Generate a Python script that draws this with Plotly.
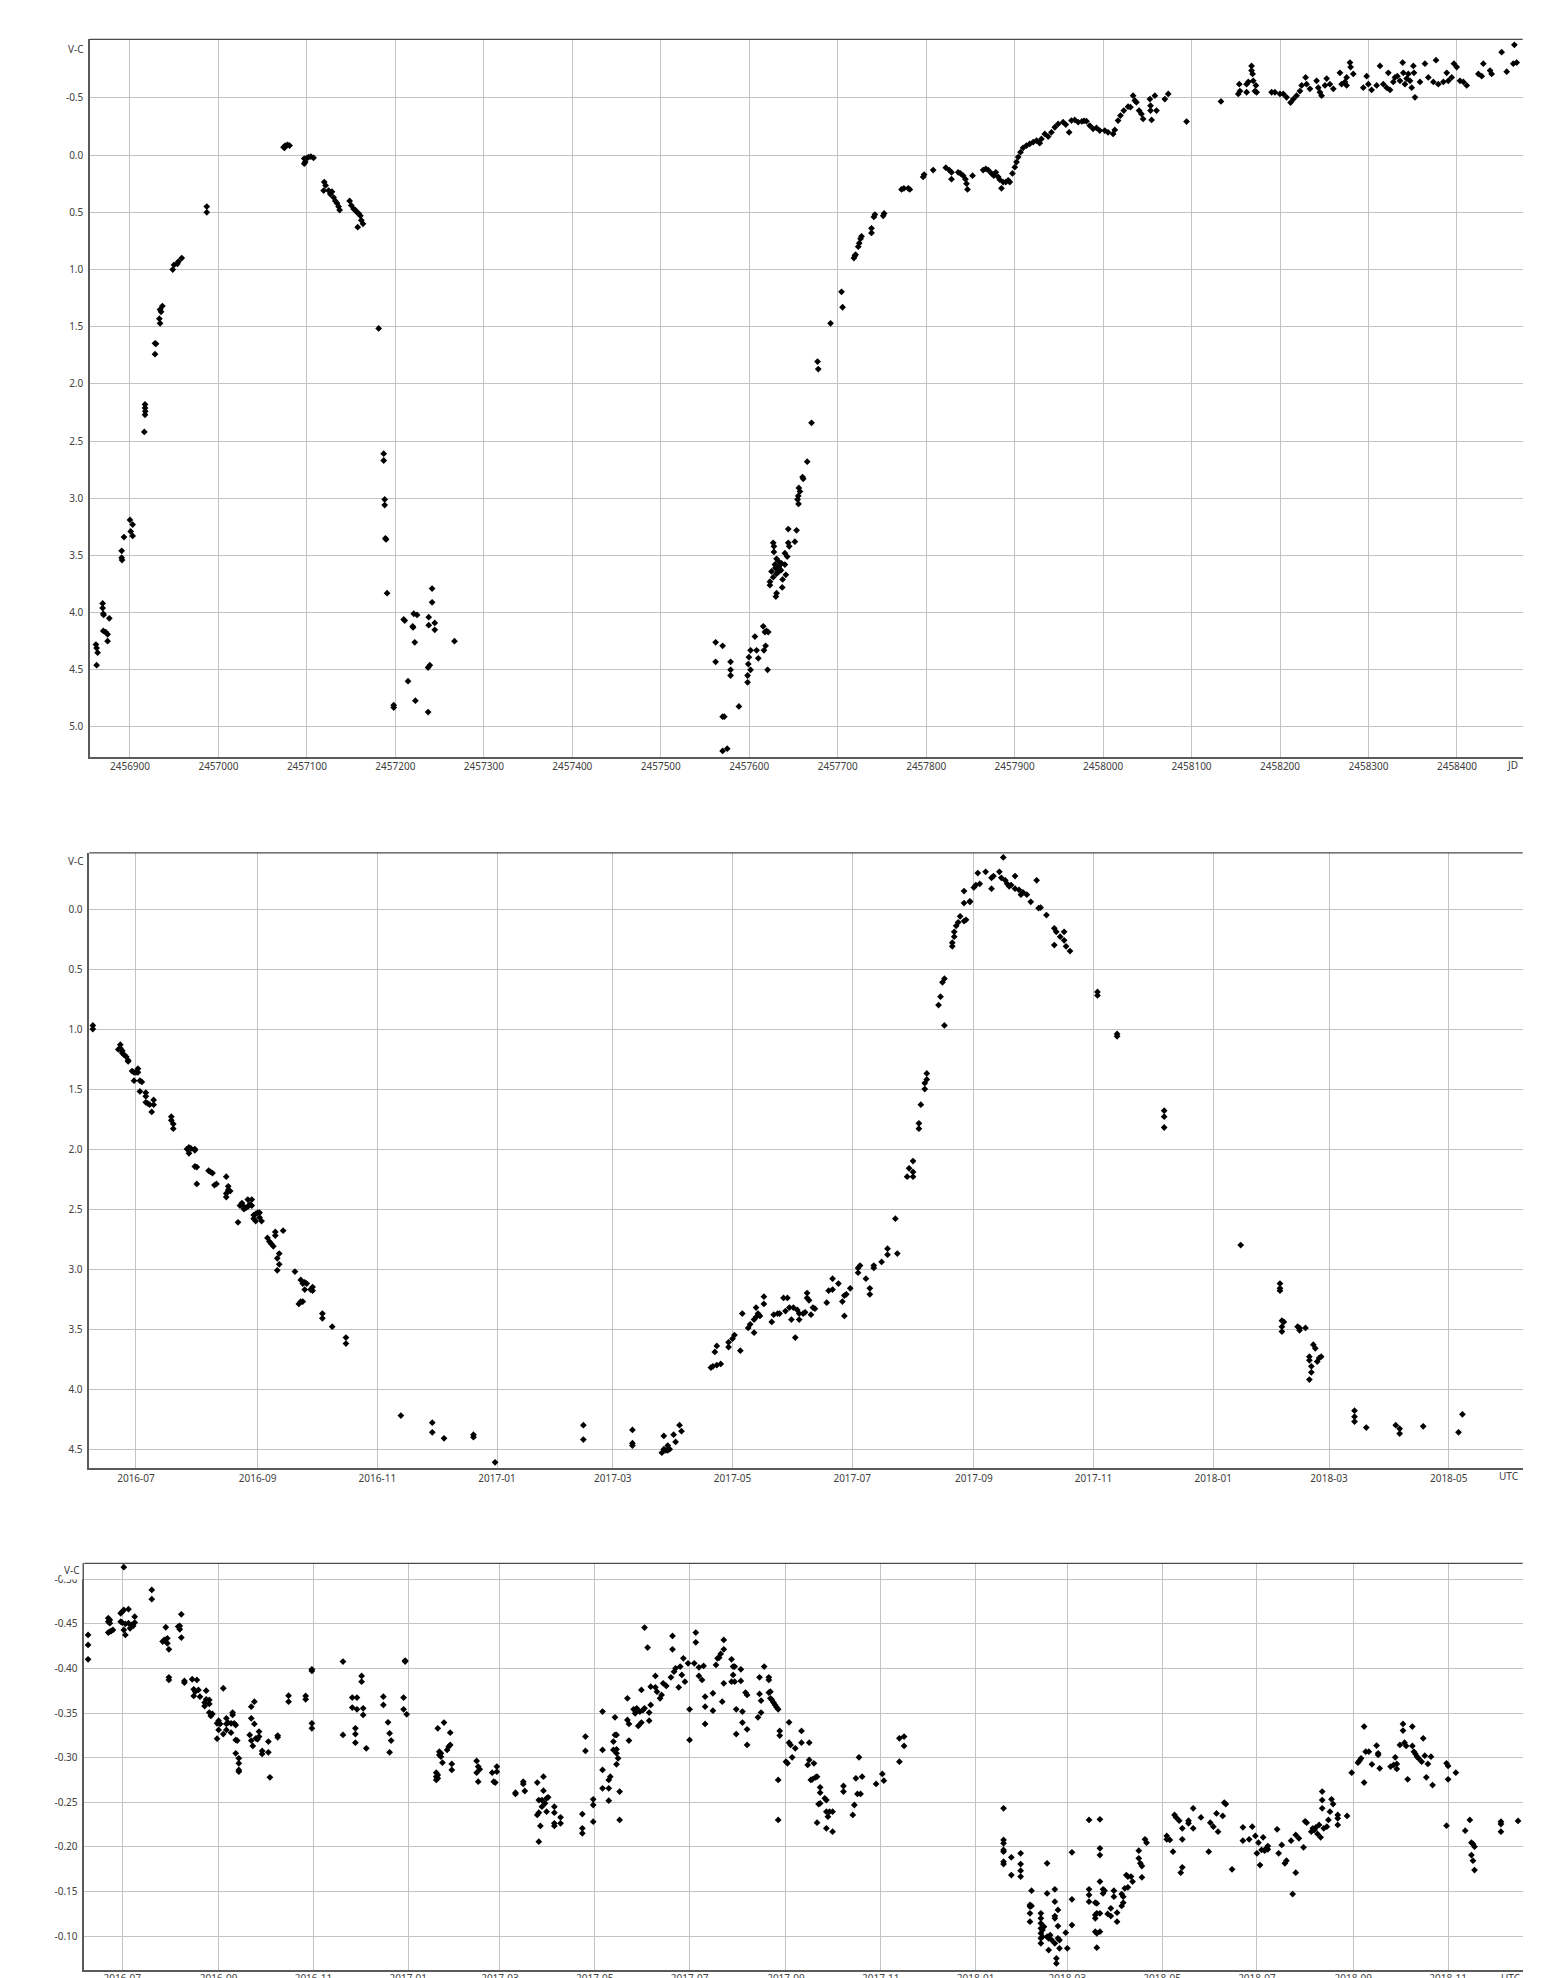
import plotly.graph_objects as go

W, H = 1564, 1978

# ---------------- data ----------------
# Panel 1: V-C against Julian Date
p1_points = [
    (2456861.5, 4.28), (2456862.3, 4.31), (2456863.4, 4.35), (2456862.3, 4.46),
    (2456869.1, 3.92), (2456869.1, 3.96), (2456869.8, 4.01), (2456870.2, 4.02), (2456876.6, 4.05),
    (2456869.8, 4.16), (2456872.5, 4.17), (2456874.7, 4.19), (2456874.7, 4.25),
    (2456890.6, 3.46), (2456890.6, 3.52), (2456891.0, 3.54), (2456893.2, 3.34), (2456900.0, 3.19),
    (2456900.8, 3.29), (2456903.0, 3.23), (2456903.0, 3.33),
    (2456916.2, 2.42), (2456917.0, 2.18), (2456917.0, 2.21), (2456917.3, 2.24), (2456917.0, 2.27),
    (2456928.3, 1.645), (2456929.4, 1.65), (2456928.3, 1.74),
    (2456934.0, 1.47), (2456933.2, 1.43), (2456934.0, 1.35), (2456936.6, 1.32), (2456935.1, 1.37),
    (2456948.3, 1.00), (2456949.8, 0.96), (2456953.6, 0.95), (2456954.7, 0.93), (2456958.5, 0.90),
    (2456986.8, 0.45), (2456986.8, 0.50),
    (2457073.6, -0.07), (2457075.5, -0.084), (2457078.1, -0.09), (2457080.4, -0.084), (2457074.7, -0.064),
    (2457097.0, 0.03), (2457098.1, 0.06), (2457100.0, 0.026), (2457101.9, 0.017), (2457104.5, 0.012),
    (2457107.5, 0.023), (2457097.0, 0.075),
    (2457119.6, 0.235), (2457121.1, 0.265), (2457118.9, 0.31), (2457124.5, 0.31), (2457126.4, 0.34),
    (2457128.3, 0.32), (2457130.2, 0.37), (2457132.1, 0.40), (2457134.0, 0.42), (2457135.8, 0.45),
    (2457137.0, 0.48),
    (2457148.3, 0.40), (2457150.2, 0.44), (2457152.8, 0.47), (2457154.7, 0.48), (2457156.6, 0.50),
    (2457158.5, 0.51), (2457160.4, 0.53), (2457161.5, 0.57), (2457163.4, 0.60), (2457157.4, 0.63),
    (2457181.1, 1.515),
    (2457186.8, 2.61), (2457186.8, 2.67), (2457187.9, 3.01), (2457187.9, 3.06), (2457188.7, 3.35),
    (2457189.4, 3.36), (2457190.6, 3.83),
    (2457198.1, 4.81), (2457198.1, 4.83),
    (2457209.4, 4.06), (2457210.6, 4.07), (2457214.3, 4.60), (2457219.6, 4.12), (2457220.0, 4.13),
    (2457220.8, 4.01), (2457221.9, 4.26), (2457222.6, 4.77), (2457224.5, 4.02), (2457237.7, 4.04),
    (2457237.7, 4.11), (2457241.5, 3.79), (2457241.5, 3.91), (2457244.5, 4.09), (2457244.5, 4.15),
    (2457237.0, 4.48), (2457238.9, 4.46), (2457237.0, 4.87), (2457266.8, 4.25),
    (2457562.0, 4.26), (2457562.0, 4.43), (2457569.9, 4.29), (2457578.9, 4.43), (2457578.9, 4.50),
    (2457578.9, 4.55), (2457588.3, 4.82), (2457569.9, 4.91), (2457571.8, 4.91), (2457569.9, 5.21),
    (2457575.1, 5.19),
    (2457598.1, 4.55), (2457598.1, 4.61), (2457598.9, 4.45), (2457599.6, 4.39), (2457601.5, 4.33),
    (2457601.5, 4.50), (2457606.4, 4.21), (2457608.3, 4.33), (2457610.2, 4.40), (2457615.8, 4.12),
    (2457617.7, 4.17), (2457619.6, 4.16), (2457621.5, 4.17), (2457618.5, 4.29), (2457616.6, 4.33),
    (2457620.7, 4.50),
    (2457627.1, 3.39), (2457627.9, 3.42), (2457627.9, 3.47), (2457630.9, 3.53), (2457632.8, 3.55),
    (2457629.0, 3.58), (2457636.5, 3.57), (2457640.3, 3.58), (2457625.2, 3.64), (2457627.1, 3.69),
    (2457623.4, 3.73), (2457623.4, 3.76), (2457630.9, 3.66), (2457637.7, 3.71), (2457637.3, 3.78),
    (2457630.9, 3.83), (2457630.1, 3.86), (2457641.4, 3.67), (2457644.1, 3.27), (2457653.5, 3.28),
    (2457644.1, 3.39), (2457651.6, 3.38), (2457645.2, 3.42), (2457640.3, 3.48), (2457642.9, 3.51),
    (2457633.5, 3.60), (2457634.5, 3.62), (2457632.0, 3.65), (2457635.8, 3.63), (2457629.5, 3.61),
    (2457654.6, 3.01), (2457655.7, 3.05), (2457655.4, 2.98), (2457657.3, 2.94), (2457656.1, 2.91),
    (2457660.3, 2.815), (2457661.0, 2.83), (2457665.5, 2.68), (2457670.4, 2.34),
    (2457677.2, 1.805), (2457678.0, 1.87), (2457691.9, 1.47), (2457704.3, 1.195), (2457705.5, 1.33),
    (2457718.3, 0.90), (2457719.4, 0.88), (2457720.2, 0.87), (2457723.2, 0.80), (2457724.3, 0.77),
    (2457725.8, 0.73), (2457726.9, 0.71), (2457738.2, 0.64), (2457738.2, 0.68), (2457740.9, 0.54),
    (2457742.0, 0.52), (2457751.4, 0.53), (2457752.5, 0.51),
    (2457772.1, 0.30), (2457774.8, 0.29), (2457779.7, 0.29), (2457781.5, 0.30),
    (2457796.6, 0.19), (2457797.7, 0.17), (2457807.9, 0.13),
    (2457822.2, 0.11), (2457826.0, 0.13), (2457828.6, 0.21), (2457828.6, 0.15), (2457836.2, 0.15),
    (2457838.8, 0.16), (2457841.8, 0.18), (2457844.4, 0.21), (2457845.6, 0.25), (2457846.7, 0.30),
    (2457852.4, 0.18),
    (2457864.4, 0.13), (2457867.4, 0.12), (2457870.1, 0.13), (2457873.8, 0.16), (2457876.5, 0.18),
    (2457878.7, 0.15), (2457881.4, 0.19), (2457883.2, 0.215), (2457885.1, 0.29), (2457887.0, 0.235),
    (2457890.0, 0.235), (2457892.7, 0.22), (2457894.5, 0.235), (2457897.5, 0.16),
    (2457900.2, 0.105), (2457902.1, 0.06), (2457904.0, 0.017), (2457906.6, -0.026), (2457909.6, -0.064),
    (2457913.4, -0.084), (2457917.1, -0.099), (2457920.9, -0.113), (2457924.7, -0.128), (2457928.4, -0.105),
    (2457930.3, -0.142), (2457934.1, -0.186), (2457937.9, -0.163), (2457941.6, -0.20), (2457945.4, -0.244),
    (2457949.2, -0.273), (2457954.8, -0.288), (2457957.8, -0.267), (2457961.6, -0.20), (2457964.2, -0.302),
    (2457968.0, -0.308), (2457971.8, -0.288), (2457976.0, -0.295), (2457978.5, -0.30), (2457981.2, -0.297),
    (2457984.9, -0.259), (2457988.7, -0.23), (2457992.5, -0.238), (2457996.2, -0.215), (2458001.9, -0.215),
    (2458005.6, -0.20), (2458011.3, -0.186), (2458013.2, -0.22), (2458016.9, -0.302), (2458019.6, -0.346),
    (2458023.4, -0.39), (2458028.2, -0.424), (2458030.9, -0.419), (2458033.9, -0.52), (2458035.8, -0.477),
    (2458037.7, -0.462), (2458040.7, -0.39), (2458043.3, -0.36), (2458045.2, -0.317),
    (2458052.9, -0.49), (2458053.6, -0.433), (2458053.6, -0.39), (2458054.8, -0.308), (2458058.5, -0.52),
    (2458060.4, -0.39), (2458069.8, -0.49), (2458073.6, -0.535),
    (2458094.3, -0.294), (2458133.2, -0.47),
    (2458152.8, -0.535), (2458153.9, -0.62), (2458154.7, -0.56), (2458162.2, -0.62), (2458162.2, -0.55),
    (2458164.1, -0.64), (2458167.8, -0.78), (2458167.8, -0.74), (2458169.0, -0.71), (2458169.7, -0.65),
    (2458171.6, -0.56), (2458172.7, -0.61), (2458173.5, -0.55),
    (2458190.5, -0.55), (2458194.2, -0.55), (2458199.9, -0.535), (2458203.7, -0.535), (2458207.4, -0.506),
    (2458211.9, -0.46), (2458215.0, -0.49), (2458218.7, -0.52), (2458222.5, -0.56), (2458224.4, -0.61),
    (2458228.9, -0.68), (2458230.0, -0.62), (2458233.8, -0.58), (2458241.3, -0.65), (2458243.2, -0.59),
    (2458245.1, -0.55), (2458247.0, -0.52), (2458250.8, -0.61), (2458252.7, -0.67), (2458256.4, -0.62),
    (2458260.2, -0.58), (2458267.7, -0.72), (2458269.6, -0.62), (2458273.4, -0.64), (2458275.3, -0.68),
    (2458279.0, -0.81), (2458279.8, -0.77), (2458282.8, -0.71), (2458275.3, -0.61),
    (2458294.1, -0.59), (2458297.9, -0.69), (2458299.8, -0.62), (2458303.5, -0.57), (2458309.2, -0.61),
    (2458313.0, -0.78), (2458316.7, -0.62), (2458320.5, -0.59), (2458322.4, -0.72), (2458324.3, -0.57),
    (2458328.0, -0.64), (2458329.9, -0.68), (2458332.6, -0.69), (2458335.6, -0.65), (2458338.6, -0.81),
    (2458339.4, -0.72), (2458341.2, -0.62), (2458343.1, -0.67), (2458345.0, -0.71), (2458346.9, -0.65),
    (2458348.8, -0.59), (2458350.7, -0.78), (2458351.4, -0.72), (2458352.5, -0.506), (2458358.2, -0.64),
    (2458363.8, -0.80), (2458367.6, -0.68), (2458373.3, -0.64), (2458376.3, -0.83), (2458378.9, -0.62),
    (2458384.6, -0.64), (2458388.4, -0.72), (2458390.2, -0.65), (2458394.0, -0.68), (2458396.6, -0.80),
    (2458399.7, -0.77), (2458403.4, -0.65), (2458407.2, -0.64), (2458411.0, -0.61), (2458424.2, -0.71),
    (2458428.0, -0.69), (2458429.8, -0.80), (2458437.4, -0.74), (2458439.2, -0.71), (2458450.5, -0.90),
    (2458456.2, -0.73), (2458463.7, -0.80), (2458464.9, -0.965), (2458467.5, -0.81),
]

# Panel 2: V-C against UTC date
p2_points = [
    ("2016-06-09", 0.97), ("2016-06-09", 1.00),
    ("2016-06-23", 1.13), ("2016-06-23", 1.16), ("2016-06-22", 1.17), ("2016-06-24", 1.18), ("2016-06-24", 1.20),
    ("2016-06-25", 1.215), ("2016-06-26", 1.23), ("2016-06-27", 1.26), ("2016-06-27", 1.27),
    ("2016-06-29", 1.35), ("2016-06-30", 1.36), ("2016-07-01", 1.36), ("2016-07-02", 1.33), ("2016-07-02", 1.36),
    ("2016-06-30", 1.43), ("2016-07-03", 1.43), ("2016-07-04", 1.44), ("2016-07-03", 1.52), ("2016-07-06", 1.53),
    ("2016-07-06", 1.56), ("2016-07-06", 1.61), ("2016-07-07", 1.62), ("2016-07-08", 1.63), ("2016-07-10", 1.59),
    ("2016-07-10", 1.63), ("2016-07-09", 1.69),
    ("2016-07-19", 1.73), ("2016-07-19", 1.76), ("2016-07-20", 1.79), ("2016-07-20", 1.83),
    ("2016-07-27", 2.00), ("2016-07-28", 2.035), ("2016-07-28", 1.985), ("2016-07-29", 1.995), ("2016-07-31", 2.01),
    ("2016-07-31", 2.00), ("2016-07-31", 2.145), ("2016-08-01", 2.15), ("2016-08-01", 2.29),
    ("2016-08-07", 2.18), ("2016-08-08", 2.19), ("2016-08-09", 2.20), ("2016-08-10", 2.30), ("2016-08-11", 2.29),
    ("2016-08-16", 2.23), ("2016-08-16", 2.40), ("2016-08-16", 2.37), ("2016-08-17", 2.34), ("2016-08-17", 2.31),
    ("2016-08-18", 2.35),
    ("2016-08-22", 2.61), ("2016-08-23", 2.47), ("2016-08-24", 2.45), ("2016-08-25", 2.48), ("2016-08-25", 2.50),
    ("2016-08-26", 2.49), ("2016-08-27", 2.42), ("2016-08-27", 2.48), ("2016-08-28", 2.46), ("2016-08-29", 2.47),
    ("2016-08-29", 2.42), ("2016-08-30", 2.55), ("2016-08-30", 2.58), ("2016-08-31", 2.60), ("2016-08-31", 2.54),
    ("2016-09-01", 2.53), ("2016-09-02", 2.53), ("2016-09-02", 2.57), ("2016-09-03", 2.60),
    ("2016-09-06", 2.74), ("2016-09-07", 2.77), ("2016-09-08", 2.79), ("2016-09-09", 2.81), ("2016-09-10", 2.69),
    ("2016-09-10", 2.72), ("2016-09-14", 2.68), ("2016-09-11", 2.91), ("2016-09-12", 2.87), ("2016-09-12", 2.96),
    ("2016-09-11", 3.01),
    ("2016-09-20", 3.02), ("2016-09-22", 3.29), ("2016-09-23", 3.27), ("2016-09-24", 3.27), ("2016-09-23", 3.09),
    ("2016-09-24", 3.12), ("2016-09-25", 3.17), ("2016-09-25", 3.11), ("2016-09-26", 3.12), ("2016-09-28", 3.17),
    ("2016-09-29", 3.18), ("2016-09-29", 3.15),
    ("2016-10-04", 3.37), ("2016-10-04", 3.41), ("2016-10-09", 3.48), ("2016-10-16", 3.57), ("2016-10-16", 3.62),
    ("2016-11-13", 4.22), ("2016-11-29", 4.28), ("2016-11-29", 4.36), ("2016-12-05", 4.41), ("2016-12-20", 4.38),
    ("2016-12-20", 4.40), ("2016-12-31", 4.61),
    ("2017-02-14", 4.30), ("2017-02-14", 4.42),
    ("2017-03-11", 4.34), ("2017-03-11", 4.45), ("2017-03-11", 4.47),
    ("2017-03-26", 4.53), ("2017-03-27", 4.50), ("2017-03-27", 4.39), ("2017-03-28", 4.51), ("2017-03-29", 4.47),
    ("2017-03-29", 4.51), ("2017-03-30", 4.50), ("2017-04-01", 4.38), ("2017-04-02", 4.44), ("2017-04-04", 4.30),
    ("2017-04-05", 4.35),
    ("2017-04-20", 3.82), ("2017-04-21", 3.81), ("2017-04-23", 3.80), ("2017-04-25", 3.79), ("2017-04-22", 3.69),
    ("2017-04-23", 3.64), ("2017-04-29", 3.65), ("2017-04-29", 3.61), ("2017-05-01", 3.58), ("2017-05-02", 3.55),
    ("2017-05-05", 3.68),
    ("2017-05-06", 3.37), ("2017-05-09", 3.49), ("2017-05-10", 3.46), ("2017-05-12", 3.42), ("2017-05-12", 3.53),
    ("2017-05-13", 3.40), ("2017-05-13", 3.32), ("2017-05-14", 3.37), ("2017-05-15", 3.39), ("2017-05-17", 3.23),
    ("2017-05-17", 3.29), ("2017-05-21", 3.44), ("2017-05-22", 3.38), ("2017-05-24", 3.37), ("2017-05-25", 3.37),
    ("2017-05-27", 3.24), ("2017-05-28", 3.35), ("2017-05-29", 3.24), ("2017-05-30", 3.32), ("2017-05-31", 3.42),
    ("2017-06-01", 3.32), ("2017-06-02", 3.57), ("2017-06-03", 3.34), ("2017-06-04", 3.42), ("2017-06-04", 3.37),
    ("2017-06-06", 3.37), ("2017-06-07", 3.36), ("2017-06-08", 3.20), ("2017-06-08", 3.24), ("2017-06-09", 3.26),
    ("2017-06-10", 3.38), ("2017-06-11", 3.32), ("2017-06-12", 3.33),
    ("2017-06-18", 3.28), ("2017-06-19", 3.18), ("2017-06-21", 3.08), ("2017-06-21", 3.17), ("2017-06-24", 3.12),
    ("2017-06-26", 3.27), ("2017-06-27", 3.22), ("2017-06-28", 3.21), ("2017-06-27", 3.39), ("2017-06-30", 3.16),
    ("2017-07-04", 3.03), ("2017-07-05", 2.97), ("2017-07-04", 2.99), ("2017-07-08", 3.08), ("2017-07-10", 3.16),
    ("2017-07-10", 3.21), ("2017-07-12", 2.99), ("2017-07-12", 2.97), ("2017-07-16", 2.94), ("2017-07-19", 2.83),
    ("2017-07-19", 2.88), ("2017-07-24", 2.87), ("2017-07-23", 2.58),
    ("2017-07-29", 2.23), ("2017-07-30", 2.16), ("2017-08-01", 2.10), ("2017-08-01", 2.19), ("2017-08-01", 2.23),
    ("2017-08-04", 1.785), ("2017-08-04", 1.83), ("2017-08-05", 1.63), ("2017-08-07", 1.50), ("2017-08-07", 1.45),
    ("2017-08-08", 1.42), ("2017-08-08", 1.37),
    ("2017-08-14", 0.80), ("2017-08-15", 0.73), ("2017-08-16", 0.61), ("2017-08-17", 0.58), ("2017-08-17", 0.97),
    ("2017-08-21", 0.31), ("2017-08-21", 0.28), ("2017-08-22", 0.23), ("2017-08-22", 0.19), ("2017-08-23", 0.14),
    ("2017-08-24", 0.11), ("2017-08-25", 0.06), ("2017-08-27", 0.10), ("2017-08-28", 0.09), ("2017-08-27", -0.05),
    ("2017-08-27", -0.15), ("2017-08-30", -0.06), ("2017-08-30", -0.065),
    ("2017-09-01", -0.18), ("2017-09-02", -0.20), ("2017-09-03", -0.30), ("2017-09-04", -0.21), ("2017-09-07", -0.31),
    ("2017-09-10", -0.26), ("2017-09-10", -0.17), ("2017-09-11", -0.275), ("2017-09-14", -0.31), ("2017-09-15", -0.26),
    ("2017-09-16", -0.43), ("2017-09-17", -0.24), ("2017-09-18", -0.21), ("2017-09-19", -0.19), ("2017-09-20", -0.20),
    ("2017-09-22", -0.275), ("2017-09-22", -0.17), ("2017-09-24", -0.16), ("2017-09-25", -0.12), ("2017-09-26", -0.14),
    ("2017-09-28", -0.12), ("2017-09-30", -0.06), ("2017-10-03", -0.24), ("2017-10-04", -0.007), ("2017-10-05", -0.013),
    ("2017-10-08", 0.05), ("2017-10-12", 0.16), ("2017-10-12", 0.30), ("2017-10-13", 0.19), ("2017-10-15", 0.23),
    ("2017-10-17", 0.26), ("2017-10-17", 0.19), ("2017-10-18", 0.31), ("2017-10-20", 0.35),
    ("2017-11-03", 0.69), ("2017-11-03", 0.72), ("2017-11-13", 1.04), ("2017-11-13", 1.06),
    ("2017-12-07", 1.68), ("2017-12-07", 1.73), ("2017-12-07", 1.82),
    ("2018-01-15", 2.80),
    ("2018-02-04", 3.12), ("2018-02-04", 3.16), ("2018-02-04", 3.18), ("2018-02-05", 3.43), ("2018-02-06", 3.44),
    ("2018-02-05", 3.48), ("2018-02-05", 3.52), ("2018-02-13", 3.48), ("2018-02-14", 3.49), ("2018-02-14", 3.51),
    ("2018-02-17", 3.49), ("2018-02-21", 3.63), ("2018-02-22", 3.66), ("2018-02-19", 3.73), ("2018-02-19", 3.76),
    ("2018-02-20", 3.81), ("2018-02-20", 3.86), ("2018-02-24", 3.74), ("2018-02-25", 3.73), ("2018-02-23", 3.77),
    ("2018-02-19", 3.92),
    ("2018-03-14", 4.18), ("2018-03-14", 4.23), ("2018-03-14", 4.27), ("2018-03-20", 4.32), ("2018-04-04", 4.30),
    ("2018-04-06", 4.33), ("2018-04-06", 4.37), ("2018-04-18", 4.31), ("2018-05-06", 4.36), ("2018-05-08", 4.21),
]

# Panel 3: V-C against UTC date (comparison star check)
p3_points = [
    ("2016-06-09", -0.4376), ("2016-06-09", -0.4264), ("2016-06-09", -0.4103),
    ("2016-06-22", -0.4525), ("2016-06-22", -0.4563), ("2016-06-23", -0.4544), ("2016-06-23", -0.4507),
    ("2016-06-22", -0.4402), ("2016-06-23", -0.4413), ("2016-06-24", -0.4421), ("2016-06-25", -0.4432),
    ("2016-06-30", -0.4619), ("2016-07-01", -0.4637), ("2016-07-02", -0.5135), ("2016-07-02", -0.4656),
    ("2016-06-30", -0.4525), ("2016-07-01", -0.4514), ("2016-07-02", -0.4432), ("2016-07-03", -0.4376),
    ("2016-07-03", -0.4499), ("2016-07-05", -0.4664), ("2016-07-05", -0.4507), ("2016-07-06", -0.4450),
    ("2016-07-07", -0.4488), ("2016-07-08", -0.4477), ("2016-07-09", -0.4514), ("2016-07-09", -0.4581),
    ("2016-07-20", -0.4880), ("2016-07-20", -0.4776),
    ("2016-07-27", -0.4301), ("2016-07-28", -0.4320), ("2016-07-30", -0.4338), ("2016-07-29", -0.4462),
    ("2016-07-30", -0.4282), ("2016-07-31", -0.4215), ("2016-07-31", -0.3901), ("2016-07-31", -0.3871),
    ("2016-08-06", -0.4469), ("2016-08-07", -0.4439), ("2016-08-07", -0.4477), ("2016-08-08", -0.4607),
    ("2016-08-08", -0.4346), ("2016-08-10", -0.3860), ("2016-08-10", -0.3841),
    ("2016-08-15", -0.3879), ("2016-08-18", -0.3871), ("2016-08-16", -0.3766), ("2016-08-17", -0.3740),
    ("2016-08-16", -0.3692), ("2016-08-19", -0.3759), ("2016-08-20", -0.3684), ("2016-08-24", -0.3751),
    ("2016-08-23", -0.3617), ("2016-08-23", -0.3579), ("2016-08-24", -0.3654), ("2016-08-26", -0.3647),
    ("2016-08-26", -0.3602), ("2016-08-26", -0.3505), ("2016-08-27", -0.3467), ("2016-08-28", -0.3490),
    ("2016-08-31", -0.3385), ("2016-09-01", -0.3310), ("2016-09-01", -0.3415), ("2016-09-02", -0.3378),
    ("2016-08-31", -0.3213), ("2016-09-04", -0.3265), ("2016-09-04", -0.3778), ("2016-09-06", -0.3378),
    ("2016-09-06", -0.3441), ("2016-09-06", -0.3310), ("2016-09-07", -0.3393), ("2016-09-09", -0.3280),
    ("2016-09-09", -0.3385), ("2016-09-10", -0.3505), ("2016-09-10", -0.3479), ("2016-09-11", -0.3385),
    ("2016-09-12", -0.3366), ("2016-09-12", -0.3198), ("2016-09-13", -0.3191), ("2016-09-12", -0.3049),
    ("2016-09-14", -0.2993), ("2016-09-14", -0.2936), ("2016-09-14", -0.2862), ("2016-09-14", -0.2843),
    ("2016-09-22", -0.3572), ("2016-09-24", -0.3628), ("2016-09-22", -0.3441), ("2016-09-24", -0.3378),
    ("2016-09-21", -0.3254), ("2016-09-22", -0.3191), ("2016-09-23", -0.3131), ("2016-09-25", -0.3217),
    ("2016-09-26", -0.3206), ("2016-09-27", -0.3236), ("2016-09-27", -0.3292), ("2016-09-29", -0.3075),
    ("2016-09-29", -0.3041), ("2016-10-03", -0.3060), ("2016-10-03", -0.3180), ("2016-10-04", -0.2779),
    ("2016-10-09", -0.3247), ("2016-10-09", -0.3228),
    ("2016-10-16", -0.3695), ("2016-10-16", -0.3628),
    ("2016-10-27", -0.3692), ("2016-10-27", -0.3654), ("2016-10-31", -0.3991), ("2016-10-31", -0.3972),
    ("2016-10-31", -0.3385), ("2016-10-31", -0.3329),
    ("2016-11-20", -0.4077), ("2016-11-20", -0.3254), ("2016-11-26", -0.3673), ("2016-11-29", -0.3673),
    ("2016-11-26", -0.3561), ("2016-11-29", -0.3542), ("2016-11-28", -0.3329), ("2016-11-28", -0.3265),
    ("2016-11-28", -0.3168), ("2016-12-02", -0.3916), ("2016-12-02", -0.3852), ("2016-12-03", -0.3553),
    ("2016-12-03", -0.3479), ("2016-12-05", -0.3105),
    ("2016-12-16", -0.3684), ("2016-12-16", -0.3591), ("2016-12-19", -0.3396), ("2016-12-20", -0.3273),
    ("2016-12-21", -0.3191), ("2016-12-20", -0.3060),
    ("2016-12-29", -0.3673), ("2016-12-29", -0.3542), ("2016-12-30", -0.4088), ("2016-12-30", -0.4077),
    ("2016-12-31", -0.3486),
    ("2017-01-19", -0.2832), ("2017-01-19", -0.2787), ("2017-01-19", -0.2750), ("2017-01-20", -0.2806),
    ("2017-01-20", -0.2768), ("2017-01-20", -0.3329), ("2017-01-21", -0.3067), ("2017-01-21", -0.3030),
    ("2017-01-22", -0.3011), ("2017-01-22", -0.3049), ("2017-01-23", -0.2944), ("2017-01-24", -0.3393),
    ("2017-01-26", -0.3086), ("2017-01-27", -0.3123), ("2017-01-28", -0.3280), ("2017-01-28", -0.3142),
    ("2017-01-29", -0.2929), ("2017-01-29", -0.2862),
    ("2017-02-14", -0.2963), ("2017-02-15", -0.2900), ("2017-02-14", -0.2832), ("2017-02-15", -0.2731),
    ("2017-02-16", -0.2869), ("2017-02-24", -0.2832), ("2017-02-25", -0.2731), ("2017-02-26", -0.2720),
    ("2017-02-27", -0.2900), ("2017-02-27", -0.2843),
    ("2017-03-11", -0.2607), ("2017-03-11", -0.2593), ("2017-03-16", -0.2731), ("2017-03-16", -0.2705),
    ("2017-03-17", -0.2626),
    ("2017-03-25", -0.2720), ("2017-03-26", -0.2525), ("2017-03-26", -0.2383), ("2017-03-25", -0.2357),
    ("2017-03-26", -0.2058), ("2017-03-27", -0.2234), ("2017-03-28", -0.2450), ("2017-03-28", -0.2525),
    ("2017-03-29", -0.2787), ("2017-03-29", -0.2630), ("2017-03-30", -0.2488), ("2017-03-31", -0.2544),
    ("2017-03-31", -0.2394), ("2017-04-01", -0.2555), ("2017-04-05", -0.2450), ("2017-04-05", -0.2383),
    ("2017-04-05", -0.2264), ("2017-04-05", -0.2234), ("2017-04-09", -0.2331), ("2017-04-09", -0.2264),
    ("2017-04-23", -0.2368), ("2017-04-23", -0.2207), ("2017-04-23", -0.2151), ("2017-04-25", -0.3236),
    ("2017-04-25", -0.3075), ("2017-04-30", -0.2533), ("2017-04-30", -0.2469), ("2017-04-30", -0.2282),
    ("2017-05-06", -0.3516), ("2017-05-06", -0.3086), ("2017-05-06", -0.2862), ("2017-05-06", -0.2656),
    ("2017-05-10", -0.2750), ("2017-05-11", -0.2787), ("2017-05-10", -0.2656), ("2017-05-10", -0.2518),
    ("2017-05-14", -0.3452), ("2017-05-13", -0.3180), ("2017-05-14", -0.3254), ("2017-05-15", -0.3093),
    ("2017-05-15", -0.3049), ("2017-05-16", -0.2993), ("2017-05-15", -0.2925), ("2017-05-17", -0.2619),
    ("2017-05-17", -0.2301), ("2017-05-13", -0.3086), ("2017-05-15", -0.3254),
    ("2017-05-22", -0.3665), ("2017-05-22", -0.3422), ("2017-05-23", -0.3378), ("2017-05-23", -0.3191),
    ("2017-05-26", -0.3542), ("2017-05-27", -0.3497), ("2017-05-28", -0.3553), ("2017-05-29", -0.3355),
    ("2017-05-30", -0.3516), ("2017-05-31", -0.3759), ("2017-05-31", -0.3393), ("2017-06-01", -0.3534),
    ("2017-06-02", -0.4458), ("2017-06-02", -0.3553), ("2017-06-04", -0.4234), ("2017-06-05", -0.3505),
    ("2017-06-05", -0.3415), ("2017-06-06", -0.3591), ("2017-06-06", -0.3796), ("2017-06-09", -0.3789),
    ("2017-06-09", -0.3916), ("2017-06-10", -0.3740), ("2017-06-12", -0.3665), ("2017-06-13", -0.3703),
    ("2017-06-14", -0.3834), ("2017-06-16", -0.3804), ("2017-06-19", -0.3901), ("2017-06-20", -0.4364),
    ("2017-06-20", -0.4215), ("2017-06-21", -0.3964), ("2017-06-22", -0.4002), ("2017-06-24", -0.3789),
    ("2017-06-25", -0.4021), ("2017-06-26", -0.3927), ("2017-06-27", -0.4114), ("2017-06-28", -0.3852),
    ("2017-06-30", -0.4058), ("2017-07-01", -0.3542), ("2017-07-01", -0.3198),
    ("2017-07-04", -0.4058), ("2017-07-05", -0.4402), ("2017-07-05", -0.4293), ("2017-07-07", -0.4013),
    ("2017-07-09", -0.3871), ("2017-07-07", -0.3916), ("2017-07-10", -0.4028), ("2017-07-11", -0.3684),
    ("2017-07-11", -0.3572), ("2017-07-11", -0.3378), ("2017-07-16", -0.3722), ("2017-07-16", -0.3527),
    ("2017-07-18", -0.4039), ("2017-07-19", -0.4114), ("2017-07-20", -0.4121), ("2017-07-21", -0.4163),
    ("2017-07-22", -0.3628), ("2017-07-23", -0.3834), ("2017-07-23", -0.4320), ("2017-07-23", -0.4215),
    ("2017-07-28", -0.4103), ("2017-07-29", -0.4021), ("2017-07-30", -0.4021), ("2017-07-29", -0.3927),
    ("2017-07-30", -0.3852), ("2017-07-28", -0.3852), ("2017-07-31", -0.3542), ("2017-07-31", -0.3265),
    ("2017-08-03", -0.3991), ("2017-08-03", -0.3860), ("2017-08-04", -0.3516), ("2017-08-04", -0.3393),
    ("2017-08-06", -0.3729), ("2017-08-07", -0.3703), ("2017-08-07", -0.3318), ("2017-08-07", -0.3142),
    ("2017-08-14", -0.3452), ("2017-08-15", -0.3901), ("2017-08-15", -0.3714), ("2017-08-16", -0.3639),
    ("2017-08-16", -0.3505), ("2017-08-18", -0.4021), ("2017-08-21", -0.3901), ("2017-08-21", -0.3871),
    ("2017-08-21", -0.3729), ("2017-08-22", -0.3740), ("2017-08-22", -0.3665), ("2017-08-23", -0.3647),
    ("2017-08-24", -0.3617), ("2017-08-25", -0.3591), ("2017-08-26", -0.3564), ("2017-08-27", -0.3542),
    ("2017-08-27", -0.2750), ("2017-08-27", -0.2301), ("2017-08-28", -0.3299), ("2017-08-28", -0.3247),
    ("2017-09-01", -0.2955), ("2017-09-02", -0.2936), ("2017-09-03", -0.3396), ("2017-09-03", -0.3168),
    ("2017-09-04", -0.3142), ("2017-09-05", -0.3004), ("2017-09-07", -0.3105), ("2017-09-11", -0.3299),
    ("2017-09-11", -0.3168), ("2017-09-15", -0.2918), ("2017-09-16", -0.3168), ("2017-09-16", -0.2974),
    ("2017-09-17", -0.2750), ("2017-09-19", -0.2936), ("2017-09-18", -0.2757), ("2017-09-20", -0.2779),
    ("2017-09-21", -0.2787), ("2017-09-23", -0.2667), ("2017-09-23", -0.2607), ("2017-09-22", -0.2480),
    ("2017-09-21", -0.2271), ("2017-09-23", -0.2488), ("2017-09-26", -0.2544), ("2017-09-27", -0.2525),
    ("2017-09-27", -0.2394), ("2017-09-28", -0.2338), ("2017-09-27", -0.2207), ("2017-09-29", -0.2394),
    ("2017-10-01", -0.2394), ("2017-10-01", -0.2170),
    ("2017-10-08", -0.2682), ("2017-10-08", -0.2619), ("2017-10-14", -0.2357), ("2017-10-15", -0.2469),
    ("2017-10-16", -0.2768), ("2017-10-17", -0.2593), ("2017-10-18", -0.3004), ("2017-10-19", -0.2593),
    ("2017-10-20", -0.2787), ("2017-10-29", -0.2705), ("2017-11-02", -0.2817), ("2017-11-03", -0.2742),
    ("2017-11-13", -0.2955), ("2017-11-13", -0.3217), ("2017-11-16", -0.3236), ("2017-11-16", -0.3131),
    ("2018-01-19", -0.2432), ("2018-01-19", -0.2077), ("2018-01-19", -0.2040), ("2018-01-19", -0.1965),
    ("2018-01-19", -0.1946), ("2018-01-19", -0.1834), ("2018-01-19", -0.1807), ("2018-01-24", -0.1882),
    ("2018-01-24", -0.1684), ("2018-01-30", -0.1927), ("2018-01-30", -0.1807), ("2018-01-30", -0.1733),
    ("2018-01-30", -0.1666),
    ("2018-02-06", -0.1508), ("2018-02-05", -0.1348), ("2018-02-05", -0.1330), ("2018-02-06", -0.1337),
    ("2018-02-05", -0.1254), ("2018-02-05", -0.1161),
    ("2018-02-12", -0.1254), ("2018-02-12", -0.1198), ("2018-02-12", -0.1142), ("2018-02-12", -0.1086),
    ("2018-02-12", -0.1030), ("2018-02-12", -0.0974), ("2018-02-12", -0.0918), ("2018-02-13", -0.1067),
    ("2018-02-13", -0.0993), ("2018-02-14", -0.1105), ("2018-02-16", -0.1815), ("2018-02-16", -0.1478),
    ("2018-02-16", -0.0993), ("2018-02-17", -0.0974), ("2018-02-17", -0.0843), ("2018-02-18", -0.1011),
    ("2018-02-19", -0.0955), ("2018-02-21", -0.1523), ("2018-02-21", -0.1385), ("2018-02-21", -0.1224),
    ("2018-02-21", -0.1198), ("2018-02-21", -0.0918), ("2018-02-22", -0.0693), ("2018-02-22", -0.0749),
    ("2018-02-23", -0.1292), ("2018-02-23", -0.1112), ("2018-02-23", -0.0974), ("2018-02-24", -0.0862),
    ("2018-02-24", -0.0955), ("2018-02-28", -0.1037), ("2018-03-01", -0.0862), ("2018-03-04", -0.1938),
    ("2018-03-04", -0.1411), ("2018-03-04", -0.1123),
    ("2018-03-15", -0.2301), ("2018-03-22", -0.2308), ("2018-03-15", -0.1523), ("2018-03-15", -0.1460),
    ("2018-03-15", -0.1385), ("2018-03-19", -0.1374), ("2018-03-20", -0.1366), ("2018-03-22", -0.1983),
    ("2018-03-22", -0.1908), ("2018-03-22", -0.1610), ("2018-03-19", -0.1236), ("2018-03-19", -0.1198),
    ("2018-03-20", -0.1254), ("2018-03-22", -0.1254), ("2018-03-19", -0.1049), ("2018-03-20", -0.1030),
    ("2018-03-22", -0.1049), ("2018-03-20", -0.0869), ("2018-03-24", -0.1523), ("2018-03-24", -0.1478),
    ("2018-03-25", -0.1508), ("2018-03-27", -0.1247), ("2018-03-29", -0.1224), ("2018-03-29", -0.1310),
    ("2018-03-31", -0.1508), ("2018-03-31", -0.1441), ("2018-04-02", -0.1262), ("2018-04-02", -0.1161),
    ("2018-04-05", -0.1471), ("2018-04-06", -0.1441), ("2018-04-06", -0.1374), ("2018-04-05", -0.1337),
    ("2018-04-07", -0.1535), ("2018-04-08", -0.1684), ("2018-04-09", -0.1546), ("2018-04-09", -0.1666),
    ("2018-04-11", -0.1666), ("2018-04-12", -0.1610), ("2018-04-16", -0.1957), ("2018-04-16", -0.1871),
    ("2018-04-17", -0.1815), ("2018-04-18", -0.1658), ("2018-04-18", -0.1785), ("2018-04-20", -0.2084),
    ("2018-04-21", -0.2047),
    ("2018-05-04", -0.2122), ("2018-05-04", -0.2084), ("2018-05-06", -0.2077), ("2018-05-08", -0.1946),
    ("2018-05-09", -0.2357), ("2018-05-10", -0.2330), ("2018-05-12", -0.2293), ("2018-05-14", -0.2207),
    ("2018-05-14", -0.2084), ("2018-05-13", -0.1710), ("2018-05-14", -0.1770), ("2018-05-18", -0.2293),
    ("2018-05-18", -0.2264), ("2018-05-21", -0.2207), ("2018-05-21", -0.2432), ("2018-05-26", -0.2330),
    ("2018-05-31", -0.1946), ("2018-06-01", -0.2271), ("2018-06-03", -0.2226), ("2018-06-06", -0.2170),
    ("2018-06-05", -0.2375), ("2018-06-09", -0.2346), ("2018-06-10", -0.2495), ("2018-06-11", -0.2480),
    ("2018-06-15", -0.1748),
    ("2018-06-22", -0.2219), ("2018-06-22", -0.2069), ("2018-06-26", -0.2084), ("2018-06-28", -0.2226),
    ("2018-06-30", -0.2122), ("2018-07-01", -0.1927), ("2018-07-02", -0.2047), ("2018-07-03", -0.1796),
    ("2018-07-04", -0.1965), ("2018-07-05", -0.2107), ("2018-07-06", -0.1957), ("2018-07-07", -0.1983),
    ("2018-07-08", -0.1972), ("2018-07-08", -0.2009), ("2018-07-14", -0.2196), ("2018-07-15", -0.1927),
    ("2018-07-17", -0.2021), ("2018-07-19", -0.1815), ("2018-07-20", -0.1845), ("2018-07-23", -0.2069),
    ("2018-07-24", -0.1471), ("2018-07-26", -0.1710), ("2018-07-26", -0.2133), ("2018-07-28", -0.2095),
    ("2018-07-31", -0.1994), ("2018-08-01", -0.2286), ("2018-08-02", -0.2271), ("2018-08-05", -0.2170),
    ("2018-08-06", -0.2207), ("2018-08-07", -0.2189), ("2018-08-08", -0.2219), ("2018-08-09", -0.2144),
    ("2018-08-10", -0.2245), ("2018-08-11", -0.2107), ("2018-08-12", -0.2619), ("2018-08-12", -0.2525),
    ("2018-08-12", -0.2432), ("2018-08-13", -0.2207), ("2018-08-15", -0.2226), ("2018-08-16", -0.2301),
    ("2018-08-17", -0.2394), ("2018-08-18", -0.2533), ("2018-08-19", -0.2480), ("2018-08-22", -0.2357),
    ("2018-08-22", -0.2320), ("2018-08-22", -0.2245), ("2018-08-28", -0.2346),
    ("2018-08-31", -0.2832), ("2018-09-04", -0.2944), ("2018-09-05", -0.2966), ("2018-09-06", -0.2993),
    ("2018-09-08", -0.3348), ("2018-09-08", -0.2720), ("2018-09-09", -0.3067), ("2018-09-11", -0.3067),
    ("2018-09-13", -0.2925), ("2018-09-16", -0.3135), ("2018-09-17", -0.3049), ("2018-09-17", -0.3030),
    ("2018-09-18", -0.2880), ("2018-09-25", -0.2900), ("2018-09-27", -0.2918), ("2018-09-28", -0.3004),
    ("2018-09-29", -0.2873), ("2018-09-29", -0.2929), ("2018-10-01", -0.3142), ("2018-10-03", -0.3378),
    ("2018-10-03", -0.3303), ("2018-10-04", -0.3168), ("2018-10-05", -0.3131), ("2018-10-06", -0.2757),
    ("2018-10-09", -0.3348), ("2018-10-09", -0.3131), ("2018-10-10", -0.3067), ("2018-10-11", -0.3041),
    ("2018-10-12", -0.3011), ("2018-10-13", -0.2993), ("2018-10-15", -0.2955), ("2018-10-16", -0.3217),
    ("2018-10-17", -0.3022), ("2018-10-18", -0.2780), ("2018-10-19", -0.2929), ("2018-10-21", -0.3011),
    ("2018-10-22", -0.2693),
    ("2018-10-31", -0.2936), ("2018-10-31", -0.2237), ("2018-11-01", -0.2907), ("2018-11-01", -0.2757),
    ("2018-11-06", -0.2832), ("2018-11-12", -0.2181), ("2018-11-15", -0.2301), ("2018-11-16", -0.1908),
    ("2018-11-16", -0.2047), ("2018-11-17", -0.2032), ("2018-11-18", -0.2002), ("2018-11-18", -0.1740),
    ("2018-11-17", -0.1845),
    ("2018-12-05", -0.2282), ("2018-12-05", -0.2256), ("2018-12-05", -0.2170), ("2018-12-16", -0.2290),
]

# Tick values and labels
p1_xtick_vals = [2456900, 2457000, 2457100, 2457200, 2457300, 2457400, 2457500, 2457600,
                 2457700, 2457800, 2457900, 2458000, 2458100, 2458200, 2458300, 2458400]
p1_xtick_text = ["2456900", "2457000", "2457100", "2457200", "2457300", "2457400", "2457500", "2457600",
                 "2457700", "2457800", "2457900", "2458000", "2458100", "2458200", "2458300", "2458400"]
p1_ytick_vals = [-0.5, 0.0, 0.5, 1.0, 1.5, 2.0, 2.5, 3.0, 3.5, 4.0, 4.5, 5.0]
p1_ytick_text = ["-0.5", "0.0", "0.5", "1.0", "1.5", "2.0", "2.5", "3.0", "3.5", "4.0", "4.5", "5.0"]

p2_xtick_vals = ["2016-07-01", "2016-09-01", "2016-11-01", "2017-01-01", "2017-03-01", "2017-05-01",
                 "2017-07-01", "2017-09-01", "2017-11-01", "2018-01-01", "2018-03-01", "2018-05-01"]
p2_xtick_text = ["2016-07", "2016-09", "2016-11", "2017-01", "2017-03", "2017-05",
                 "2017-07", "2017-09", "2017-11", "2018-01", "2018-03", "2018-05"]
p2_ytick_vals = [0.0, 0.5, 1.0, 1.5, 2.0, 2.5, 3.0, 3.5, 4.0, 4.5]
p2_ytick_text = ["0.0", "0.5", "1.0", "1.5", "2.0", "2.5", "3.0", "3.5", "4.0", "4.5"]

p3_xtick_vals = ["2016-07-01", "2016-09-01", "2016-11-01", "2017-01-01", "2017-03-01", "2017-05-01",
                 "2017-07-01", "2017-09-01", "2017-11-01", "2018-01-01", "2018-03-01", "2018-05-01",
                 "2018-07-01", "2018-09-01", "2018-11-01"]
p3_xtick_text = ["2016-07", "2016-09", "2016-11", "2017-01", "2017-03", "2017-05",
                 "2017-07", "2017-09", "2017-11", "2018-01", "2018-03", "2018-05",
                 "2018-07", "2018-09", "2018-11"]
p3_ytick_vals = [-0.50, -0.45, -0.40, -0.35, -0.30, -0.25, -0.20, -0.15, -0.10]
p3_ytick_text = ["-0.50", "-0.45", "-0.40", "-0.35", "-0.30", "-0.25", "-0.20", "-0.15", "-0.10"]

axis_titles = ["V-C", "V-C", "V-C"]
x_units = ["JD", "UTC", "UTC"]

# ---------------- figure ----------------
def fx(p):
    return p / W

def fy(p):
    return 1 - p / H

FONT = dict(family="Noto Sans, Open Sans, DejaVu Sans, sans-serif", size=10, color="#404040")
GRID = "#c3c3c3"
AXLINE = "#5a5a5a"

marker = dict(symbol="diamond", size=5.2, color="black", line=dict(width=0))

fig = go.Figure()
fig.add_trace(go.Scatter(x=[p[0] for p in p1_points], y=[p[1] for p in p1_points],
                         mode="markers", marker=marker, xaxis="x", yaxis="y", hoverinfo="skip"))
fig.add_trace(go.Scatter(x=[p[0] for p in p2_points], y=[p[1] for p in p2_points],
                         mode="markers", marker=marker, xaxis="x2", yaxis="y2", hoverinfo="skip"))
fig.add_trace(go.Scatter(x=[p[0] for p in p3_points], y=[p[1] for p in p3_points],
                         mode="markers", marker=marker, xaxis="x3", yaxis="y3", hoverinfo="skip"))

common = dict(showgrid=True, gridcolor=GRID, gridwidth=1, zeroline=False, showline=True,
              linecolor=AXLINE, linewidth=1.5, ticks="", tickfont=FONT, fixedrange=True,
              tickmode="array", automargin=False)

# pixel boxes of the three plot areas
boxes = [
    (90.0, 1522.7, 39.3, 756.7),
    (89.3, 1522.7, 852.9, 1467.5),
    (84.3, 1522.7, 1563.3, 1970.0),
]

fig.update_layout(
    width=W, height=H,
    margin=dict(l=0, r=0, t=0, b=0, pad=0, autoexpand=False),
    paper_bgcolor="white", plot_bgcolor="white",
    showlegend=False,
    xaxis=dict(common, domain=[fx(boxes[0][0]), fx(boxes[0][1])], anchor="y",
               range=[2456854.8, 2458474.3], tickvals=p1_xtick_vals, ticktext=p1_xtick_text,
               ticklabelstandoff=0),
    yaxis=dict(common, domain=[fy(boxes[0][3]), fy(boxes[0][2])], anchor="x",
               range=[5.26, -1.013], tickvals=p1_ytick_vals, ticktext=p1_ytick_text,
               ticklabelstandoff=3),
    xaxis2=dict(common, type="date", domain=[fx(boxes[1][0]), fx(boxes[1][1])], anchor="y2",
                range=["2016-06-07 05:00", "2018-06-07 17:00"], tickvals=p2_xtick_vals,
                ticktext=p2_xtick_text, ticklabelstandoff=1),
    yaxis2=dict(common, domain=[fy(boxes[1][3]), fy(boxes[1][2])], anchor="x2",
                range=[4.653, -0.468], tickvals=p2_ytick_vals, ticktext=p2_ytick_text,
                ticklabelstandoff=3),
    xaxis3=dict(common, type="date", domain=[fx(boxes[2][0]), fx(boxes[2][1])], anchor="y3",
                range=["2016-06-06 14:00", "2018-12-19 00:00"], tickvals=p3_xtick_vals,
                ticktext=p3_xtick_text, ticklabelstandoff=-2),
    yaxis3=dict(common, domain=[fy(boxes[2][3]), fy(boxes[2][2])], anchor="x3",
                range=[-0.0619, -0.5179], tickvals=p3_ytick_vals, ticktext=p3_ytick_text,
                ticklabelstandoff=3),
)

# top border of each plot area
shapes = []
for xa, ya in (("x", "y"), ("x2", "y2"), ("x3", "y3")):
    shapes.append(dict(type="line", xref=f"{xa} domain", yref=f"{ya} domain",
                       x0=0, x1=1, y0=1, y1=1, line=dict(color="#1e1e1e", width=1)))
fig.update_layout(shapes=shapes)

# axis captions
ann = []
ann.append(dict(text=axis_titles[0], x=fx(76), y=fy(49), xref="paper", yref="paper",
                showarrow=False, font=FONT, xanchor="center", yanchor="middle"))
ann.append(dict(text=axis_titles[1], x=fx(75.5), y=fy(861), xref="paper", yref="paper",
                showarrow=False, font=FONT, xanchor="center", yanchor="middle"))
ann.append(dict(text=axis_titles[2], x=fx(72), y=fy(1570), xref="paper", yref="paper",
                showarrow=False, font=FONT, xanchor="center", yanchor="middle",
                bgcolor="white", borderpad=2))
ann.append(dict(text=x_units[0], x=fx(1512), y=fy(764.5), xref="paper", yref="paper",
                showarrow=False, font=FONT, xanchor="center", yanchor="middle"))
ann.append(dict(text=x_units[1], x=fx(1509), y=fy(1476), xref="paper", yref="paper",
                showarrow=False, font=FONT, xanchor="center", yanchor="middle"))
ann.append(dict(text=x_units[2], x=fx(1511), y=fy(1978), xref="paper", yref="paper",
                showarrow=False, font=FONT, xanchor="center", yanchor="middle"))
fig.update_layout(annotations=ann)

fig.write_html("out.html",
               config={"displayModeBar": False},
               post_script="document.body.style.margin='0';document.body.style.overflow='hidden';")
